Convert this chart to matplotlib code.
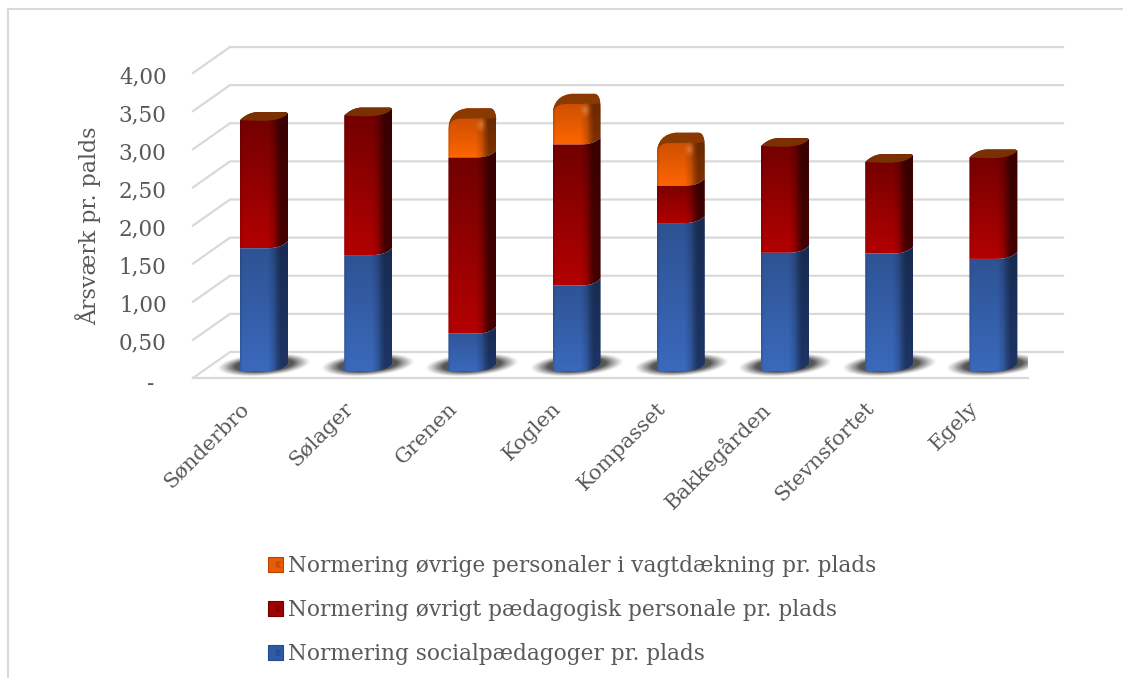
import numpy as np
import matplotlib
matplotlib.use('Agg')
import matplotlib.pyplot as plt
from matplotlib.colors import to_rgb
from matplotlib.patches import Polygon, Patch, Rectangle, Ellipse
from matplotlib.legend_handler import HandlerPatch
from matplotlib.lines import Line2D
from matplotlib.transforms import ScaledTranslation

plt.rcParams['font.family'] = ['DejaVu Serif']

categories = ['Sønderbro', 'Sølager', 'Grenen', 'Koglen', 'Kompasset', 'Bakkegården', 'Stevnsfortet', 'Egely']
social = [1.61, 1.52, 0.49, 1.12, 1.94, 1.55, 1.54, 1.47]
paed = [1.68, 1.83, 2.31, 1.85, 0.49, 1.40, 1.20, 1.33]
vagt = [0.0, 0.0, 0.51, 0.53, 0.56, 0.0, 0.0, 0.0]
yticks = [0, 0.5, 1, 1.5, 2, 2.5, 3, 3.5, 4]
ytick_labels = ['-', '0,50', '1,00', '1,50', '2,00', '2,50', '3,00', '3,50', '4,00']
legend_labels = ['Normering øvrige personaler i vagtdækning pr. plads',
                 'Normering øvrigt pædagogisk personale pr. plads',
                 'Normering socialpædagoger pr. plads']

W, H = 1123, 678
GRID = '#d9d9d9'
TEXT = '#595959'

fig = plt.figure(figsize=(W / 100, H / 100), dpi=100)
# axes box is the front wall of the 3d chart, in pixels
left, right, bottom, top = 193, 1028, 378, 73
ax = fig.add_axes([left / W, 1 - bottom / H, (right - left) / W, (bottom - top) / H])
pxx = 104.2
pxy = (bottom - top) / 4
x_first = 264
ax.set_xlim((left - x_first) / pxx, (right - x_first) / pxx)
ax.set_ylim(0, 4)
for s in ax.spines.values():
    s.set_visible(False)
ax.patch.set_alpha(0)

# depth offsets in data units
back_x, back_y = 37 / pxx, 26 / pxy
bar_y = 7 / pxy
bar_w, side_x, side_y = 40 / pxx, 8 / pxx, 8 / pxy


def curve(p0, ctrl, p1, n=8):
    # quadratic corner between two outline points
    t = np.linspace(0, 1, n)[:, None]
    p0, ctrl, p1 = np.array(p0), np.array(ctrl), np.array(p1)
    return [tuple(q) for q in (1 - t) ** 2 * p0 + 2 * t * (1 - t) * ctrl + t ** 2 * p1]


def gridline(v):
    x0, x1 = ax.get_xlim()
    ax.plot([x0, x0 + back_x, x1 + back_x - 2 / pxx], [v, v + back_y, v + back_y], color=GRID, lw=1.6,
            clip_on=False, zorder=1, solid_joinstyle='miter')


def shadow(i):
    x0, x1 = i - 47 / pxx, i + 47 / pxx
    y0, y1 = -0.02, 0.36
    xx, yy = np.meshgrid(np.linspace(-1, 1, 140), np.linspace(-1, 1, 60))
    r = np.sqrt(xx ** 2 + (1.3 * (yy - 0.22 * xx)) ** 2)
    img = np.zeros((60, 140, 4))
    img[..., :3] = 0.3
    img[..., 3] = np.clip((1 - r) / 0.38, 0, 1) ** 1.2 * 0.95
    ax.imshow(img, extent=[x0, x1, y0, y1], origin='lower', aspect='auto', zorder=2, interpolation='bilinear')


def edge(x0, x1, x2, y):
    # bottom edge of a block: flat along the front, then bending up over the side
    return [(x0, y)] + curve((x0 + 0.26, y), (x1 + 0.02, y), (x2, y + side_y * 0.9))


def segment(i, lo, hi, c_top, c_bot, c_side, zorder, round_top=False, cap=None):
    # one stacked block: gradient image clipped to the block outline
    x0 = i - (bar_w + side_x) / 2
    x1 = x0 + bar_w
    x2 = x1 + side_x
    y0, y1 = lo + bar_y, hi + bar_y
    outline = edge(x0, x1, x2, y0)
    if round_top:
        up = curve((x2, y1 + side_y - 0.17), (x2, y1 + side_y + 0.03), (x2 - 0.06, y1 + side_y + 0.03))
        up += curve((x0 + side_x + 0.1, y1 + side_y + 0.03), (x0 + 0.01, y1 + side_y), (x0, y1 - 0.13))
    elif cap:
        up = [(x2, y1 + side_y * 0.85), (x2 - 0.02, y1 + side_y)]
        up += curve((x0 + side_x + 0.08, y1 + side_y), (x0 + 0.07, y1 + side_y * 0.9), (x0, y1))
    else:
        up = edge(x0, x1, x2, y1)[::-1]
    outline = outline + up

    n, m = 60, 48
    t = np.linspace(0, 1, n)[:, None]
    col = np.array(to_rgb(c_bot)) * (1 - t) + np.array(to_rgb(c_top)) * t
    img = np.repeat(col[:, None, :], m, axis=1)
    f = np.linspace(0, 1, m)
    shade = 1 - 0.22 * np.clip((f - 0.58) / 0.18, 0, 1) - 0.12 * np.clip(1 - f / 0.05, 0, 1)
    w = np.clip((f - 0.72) / 0.14, 0, 1)[None, :, None]
    side = np.array(to_rgb(c_side)) * (1.0 - 0.2 * t)[:, None, :]
    img = img * shade[None, :, None] * (1 - w) + side * w
    im = ax.imshow(img, extent=[x0, x2, y0 - 0.02, y1 + side_y + 0.03], origin='lower', aspect='auto',
                   zorder=zorder, interpolation='bilinear')
    p = Polygon(outline, closed=True, transform=ax.transData, fc='none', ec='none')
    ax.add_patch(p)
    im.set_clip_path(p)

    if cap:
        if round_top:
            c = curve((x0 + 0.002, y1 - 0.1), (x0 + 0.03, y1 + 0.0), (x0 + 0.12, y1 + 0.0))
            c += curve((x1 - 0.06, y1), (x1 + 0.02, y1 + 0.0), (x2, y1 + side_y * 0.1))
            c += up
        else:
            c = [(x0, y1)] + curve((x0 + 0.2, y1 - 0.01), (x1 + 0.02, y1 - 0.01), (x2, y1 + side_y * 0.85))
            c += up[1:]
        ax.add_patch(Polygon(c, closed=True, fc=cap, ec='none', zorder=zorder + 0.1))
        if round_top:
            # soft highlight near the rounded corner
            for k, a in [(1.0, 0.1), (0.65, 0.15), (0.35, 0.2)]:
                ax.add_patch(Ellipse((x1 - 0.07, y1 - 0.08), 0.1 * k, 0.2 * k, fc='#ffb070', ec='none', alpha=a,
                                     zorder=zorder + 0.2))


class BevelHandler(HandlerPatch):
    # legend key with the little bevel mark in the middle
    def create_artists(self, legend, orig, xdescent, ydescent, width, height, fontsize, trans):
        sq = Rectangle((-xdescent, -ydescent), width, height, fc=orig.get_facecolor(), ec=orig.get_edgecolor(),
                       lw=0.8, transform=trans)
        cx, cy = -xdescent + width * 0.72, -ydescent + height / 2
        d = height * 0.2
        mark = Polygon([(cx - d, cy + d), (cx + d, cy + d), (cx - d * 0.2, cy), (cx + d, cy - d), (cx - d, cy - d)],
                       fc=orig.get_edgecolor(), ec='none', alpha=0.7, transform=trans)
        return [sq, mark]


for v in yticks:
    gridline(v)
ax.plot(ax.get_xlim(), [0, 0], color=GRID, lw=1.6, clip_on=False, zorder=1)

for i in range(len(categories)):
    shadow(i)
    a, b, c = social[i], paed[i], vagt[i]
    segment(i, 0, a, '#2d5190', '#3a69bd', '#1d3565', 5)
    if c > 0:
        segment(i, a, a + b, '#6e0000', '#b40000', '#450000', 4)
        segment(i, a + b, a + b + c, '#c24a00', '#ff6600', '#7e3100', 3, round_top=True, cap='#8a3a00')
    else:
        segment(i, a, a + b, '#6e0000', '#b40000', '#450000', 4, cap='#7a3000')

ax.set_xlim((left - x_first) / pxx, (right - x_first) / pxx)
ax.set_ylim(0, 4)

ax.set_yticks(yticks)
ax.set_yticklabels(ytick_labels, fontsize=15.5, color=TEXT)
ax.tick_params(axis='y', length=0, pad=19)
off_y = ScaledTranslation(0, -0.015, fig.dpi_scale_trans)
for lab in ax.get_yticklabels():
    lab.set_transform(lab.get_transform() + off_y)
dash = ax.get_yticklabels()[0]
dash.set_transform(dash.get_transform() + ScaledTranslation(-0.12, -0.02, fig.dpi_scale_trans))

ax.set_xticks(range(len(categories)))
ax.set_xticklabels(categories, rotation=45, ha='right', rotation_mode='anchor', fontsize=15, color=TEXT)
ax.tick_params(axis='x', length=0, pad=12)
off = ScaledTranslation(-0.25, -0.04, fig.dpi_scale_trans)
for lab in ax.get_xticklabels():
    lab.set_transform(lab.get_transform() + off)

fig.text(88 / W, 1 - 226 / H, 'Årsværk pr. palds', rotation=90, ha='center', va='center', fontsize=15.9, color=TEXT)

handles = [Patch(fc='#e85c08', ec='#b84400'), Patch(fc='#a00000', ec='#700000'), Patch(fc='#2f5aa5', ec='#234a8c')]
fig.legend(handles, legend_labels, loc='upper left', bbox_to_anchor=(268 / W, 1 - 555 / H), frameon=False,
           fontsize=15.6, labelcolor=TEXT, handlelength=0.7, handleheight=0.7, handletextpad=0.2,
           labelspacing=1.02, borderpad=0, borderaxespad=0,
           handler_map={Patch: BevelHandler()})

# outer chart frame
fig.add_artist(Line2D([7.5 / W, 7.5 / W, 1], [0, 1 - 9 / H, 1 - 9 / H], color=GRID, lw=1.5, transform=fig.transFigure))

fig.savefig('out.png', dpi=100)
